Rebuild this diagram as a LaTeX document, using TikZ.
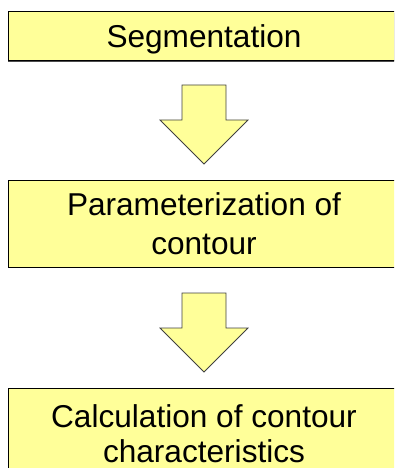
\documentclass[tikz,border=0pt]{standalone}
\usepackage{fontspec}
\setmainfont{Liberation Sans}
\usetikzlibrary{shadows}
\definecolor{paleyellow}{HTML}{FFFF99}
\tikzstyle{stage}=[draw=black, line width=1pt, fill=paleyellow, minimum width=392pt, align=center, inner sep=0pt, font=\fontsize{31.6}{39}\selectfont]
\tikzstyle{flow}=[draw=black!75, line width=0.8pt, fill=paleyellow, line join=miter]

\begin{document}
\begin{tikzpicture}[x=1pt, y=-1pt]
    \useasboundingbox (0,0) rectangle (394,468);
    \clip (0,0) rectangle (394,468);
    \node [stage, minimum height=49pt, text height=22pt, text depth=0pt,
        drop shadow={shadow xshift=-0.5pt, shadow yshift=-1.5pt, fill=black!70, opacity=1}] (seg) at (204,36.5) {Segmentation};
    \node [stage, minimum height=87pt] (par) at (204,223.5) {Parameterization of\\contour};
    \node [stage, minimum height=92pt, font=\fontsize{31.6}{35}\selectfont] (calc) at (204,434) {Calculation of contour\\characteristics};
    % block arrows between the stages
    \coordinate (a1) at (204,85);
    \coordinate (a2) at (204,293);
    \foreach \a in {a1,a2}
        \draw [flow] (\a) ++(-22,0) -- ++(44,0) -- ++(0,35) -- ++(22,0) -- ++(-44,44) -- ++(-44,-44) -- ++(22,0) -- cycle;
\end{tikzpicture}
\end{document}
